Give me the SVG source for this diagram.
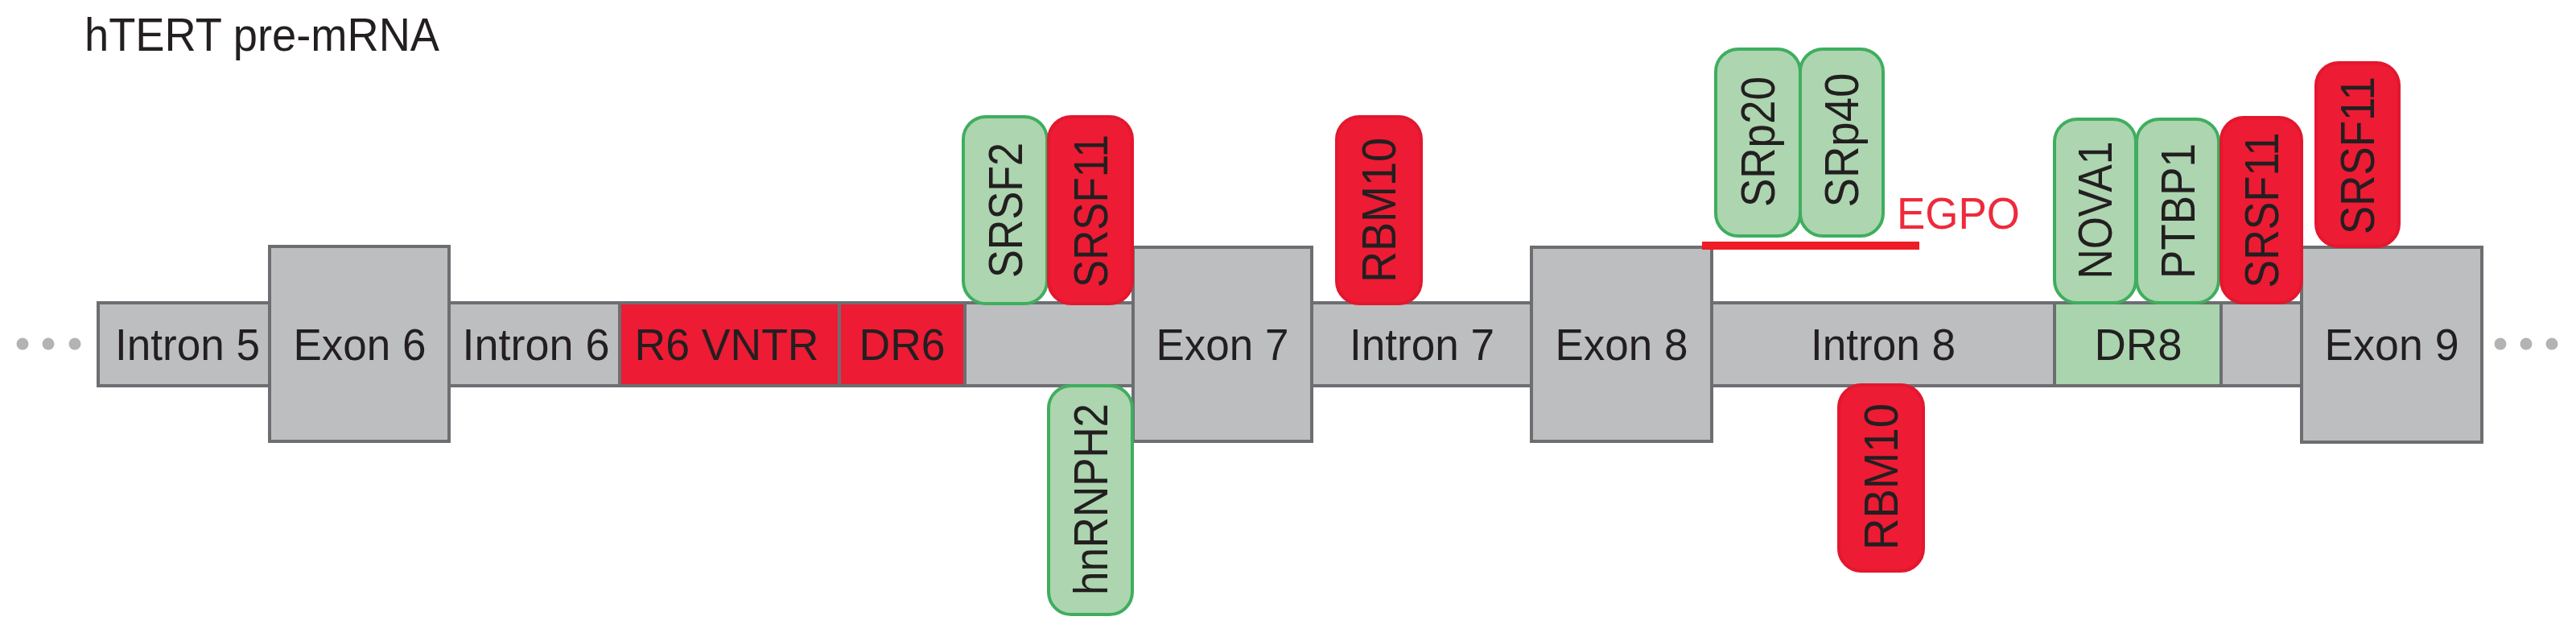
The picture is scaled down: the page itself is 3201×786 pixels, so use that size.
<svg xmlns="http://www.w3.org/2000/svg" width="3201" height="786" viewBox="0 0 3201 786">
<style>
.box{stroke:#6d6e71;stroke-width:4}
.grey{fill:#bcbec0}
.red{fill:#ed1b34}
.dr8{fill:#a9d4ae}
.pg{fill:#acd5b0;stroke:#3fae5e;stroke-width:4}
.pr{fill:#ed1b34;stroke:#e3172e;stroke-width:4}
.lbl{font-family:"Liberation Sans",Arial,Helvetica,sans-serif;font-size:56px;fill:#231f20;text-anchor:middle}
.rl{font-family:"Liberation Sans",Arial,Helvetica,sans-serif;font-size:59px;fill:#231f20;text-anchor:middle}
.dot{fill:#b3b3b3}
</style>
<rect width="3201" height="786" fill="#ffffff"/>
<text x="105" y="63" font-family="Liberation Sans, Arial, Helvetica, sans-serif" font-size="58" fill="#231f20" textLength="441" lengthAdjust="spacingAndGlyphs">hTERT pre-mRNA</text>

<g id="dots-left"><circle class="dot" cx="28" cy="427" r="7.5"/><circle class="dot" cx="60" cy="427" r="7.5"/><circle class="dot" cx="93" cy="427" r="7.5"/></g>
<g id="dots-right"><circle class="dot" cx="3107" cy="427" r="7.5"/><circle class="dot" cx="3139" cy="427" r="7.5"/><circle class="dot" cx="3171" cy="427" r="7.5"/></g>

<g id="intron5"><rect class="box grey" x="122" y="376" width="213" height="103"/><text class="lbl" x="233" y="447" textLength="180" lengthAdjust="spacingAndGlyphs">Intron 5</text></g>
<g id="intron6"><rect class="box grey" x="558" y="376" width="212" height="103"/><text class="lbl" x="666" y="447" textLength="183" lengthAdjust="spacingAndGlyphs">Intron 6</text></g>
<g id="r6vntr"><rect class="box red" x="770" y="376" width="273" height="103"/><text class="lbl" x="903" y="447" textLength="229" lengthAdjust="spacingAndGlyphs">R6 VNTR</text></g>
<g id="dr6"><rect class="box red" x="1043" y="376" width="156" height="103"/><text class="lbl" x="1121" y="447" textLength="107" lengthAdjust="spacingAndGlyphs">DR6</text></g>
<g id="intron6b"><rect class="box grey" x="1199" y="376" width="209" height="103"/></g>
<g id="intron7"><rect class="box grey" x="1630" y="376" width="273" height="103"/><text class="lbl" x="1767" y="447" textLength="180" lengthAdjust="spacingAndGlyphs">Intron 7</text></g>
<g id="intron8"><rect class="box grey" x="2127" y="376" width="426" height="103"/><text class="lbl" x="2340" y="447" textLength="180" lengthAdjust="spacingAndGlyphs">Intron 8</text></g>
<g id="dr8"><rect class="box dr8" x="2553" y="376" width="207" height="103"/><text class="lbl" x="2657" y="447" textLength="109" lengthAdjust="spacingAndGlyphs">DR8</text></g>
<g id="intron8b"><rect class="box grey" x="2760" y="376" width="100" height="103"/></g>

<g id="exon6"><rect class="box grey" x="335" y="306" width="223" height="242"/><text class="lbl" x="447" y="447" textLength="165" lengthAdjust="spacingAndGlyphs">Exon 6</text></g>
<g id="exon7"><rect class="box grey" x="1408" y="307" width="222" height="241"/><text class="lbl" x="1519" y="447" textLength="165" lengthAdjust="spacingAndGlyphs">Exon 7</text></g>
<g id="exon8"><rect class="box grey" x="1903" y="307" width="224" height="241"/><text class="lbl" x="2015" y="447" textLength="165" lengthAdjust="spacingAndGlyphs">Exon 8</text></g>
<g id="exon9"><rect class="box grey" x="2860" y="307" width="224" height="242"/><text class="lbl" x="2972" y="447" textLength="167" lengthAdjust="spacingAndGlyphs">Exon 9</text></g>

<g id="connectors">
<line x1="2115" y1="305" x2="2385" y2="305" stroke="#ee1c25" stroke-width="10"/>
</g>
<g id="egpo"><text x="2357" y="284" font-family="Liberation Sans, Arial, Helvetica, sans-serif" font-size="56" fill="#ee2a3b" textLength="153" lengthAdjust="spacingAndGlyphs">EGPO</text></g>

<g id="srsf2"><rect class="pg" x="1197" y="145" width="104" height="232" rx="28"/><text class="rl" transform="translate(1249,261) rotate(-90)" x="0" y="21" textLength="168" lengthAdjust="spacingAndGlyphs">SRSF2</text></g>
<g id="srsf11-a"><rect class="pr" x="1303" y="145" width="104" height="232" rx="28"/><text class="rl" transform="translate(1355,262) rotate(-90)" x="0" y="21" textLength="190" lengthAdjust="spacingAndGlyphs">SRSF11</text></g>
<g id="hnrnph2"><rect class="pg" x="1303" y="479" width="104" height="284" rx="28"/><text class="rl" transform="translate(1355,620) rotate(-90)" x="0" y="21" textLength="238" lengthAdjust="spacingAndGlyphs">hnRNPH2</text></g>
<g id="rbm10-a"><rect class="pr" x="1661" y="145" width="105" height="232" rx="28"/><text class="rl" transform="translate(1713,261) rotate(-90)" x="0" y="21" textLength="180" lengthAdjust="spacingAndGlyphs">RBM10</text></g>
<g id="srp20"><rect class="pg" x="2132" y="61" width="105" height="232" rx="28"/><text class="rl" transform="translate(2184,176) rotate(-90)" x="0" y="21" textLength="162" lengthAdjust="spacingAndGlyphs">SRp20</text></g>
<g id="srp40"><rect class="pg" x="2237" y="61" width="103" height="232" rx="28"/><text class="rl" transform="translate(2288,174) rotate(-90)" x="0" y="21" textLength="167" lengthAdjust="spacingAndGlyphs">SRp40</text></g>
<g id="rbm10-b"><rect class="pr" x="2285" y="478" width="105" height="231" rx="28"/><text class="rl" transform="translate(2337,592) rotate(-90)" x="0" y="21" textLength="182" lengthAdjust="spacingAndGlyphs">RBM10</text></g>
<g id="nova1"><rect class="pg" x="2553" y="148" width="101" height="228" rx="28"/><text class="rl" transform="translate(2603,261) rotate(-90)" x="0" y="21" textLength="171" lengthAdjust="spacingAndGlyphs">NOVA1</text></g>
<g id="ptbp1"><rect class="pg" x="2655" y="148" width="102" height="228" rx="28"/><text class="rl" transform="translate(2706,262) rotate(-90)" x="0" y="21" textLength="168" lengthAdjust="spacingAndGlyphs">PTBP1</text></g>
<g id="srsf11-c"><rect class="pr" x="2760" y="146" width="100" height="230" rx="28"/><text class="rl" transform="translate(2810,261) rotate(-90)" x="0" y="21" textLength="193" lengthAdjust="spacingAndGlyphs">SRSF11</text></g>
<g id="srsf11-d"><rect class="pr" x="2878" y="78" width="103" height="228" rx="28"/><text class="rl" transform="translate(2929,193) rotate(-90)" x="0" y="21" textLength="196" lengthAdjust="spacingAndGlyphs">SRSF11</text></g>
</svg>
